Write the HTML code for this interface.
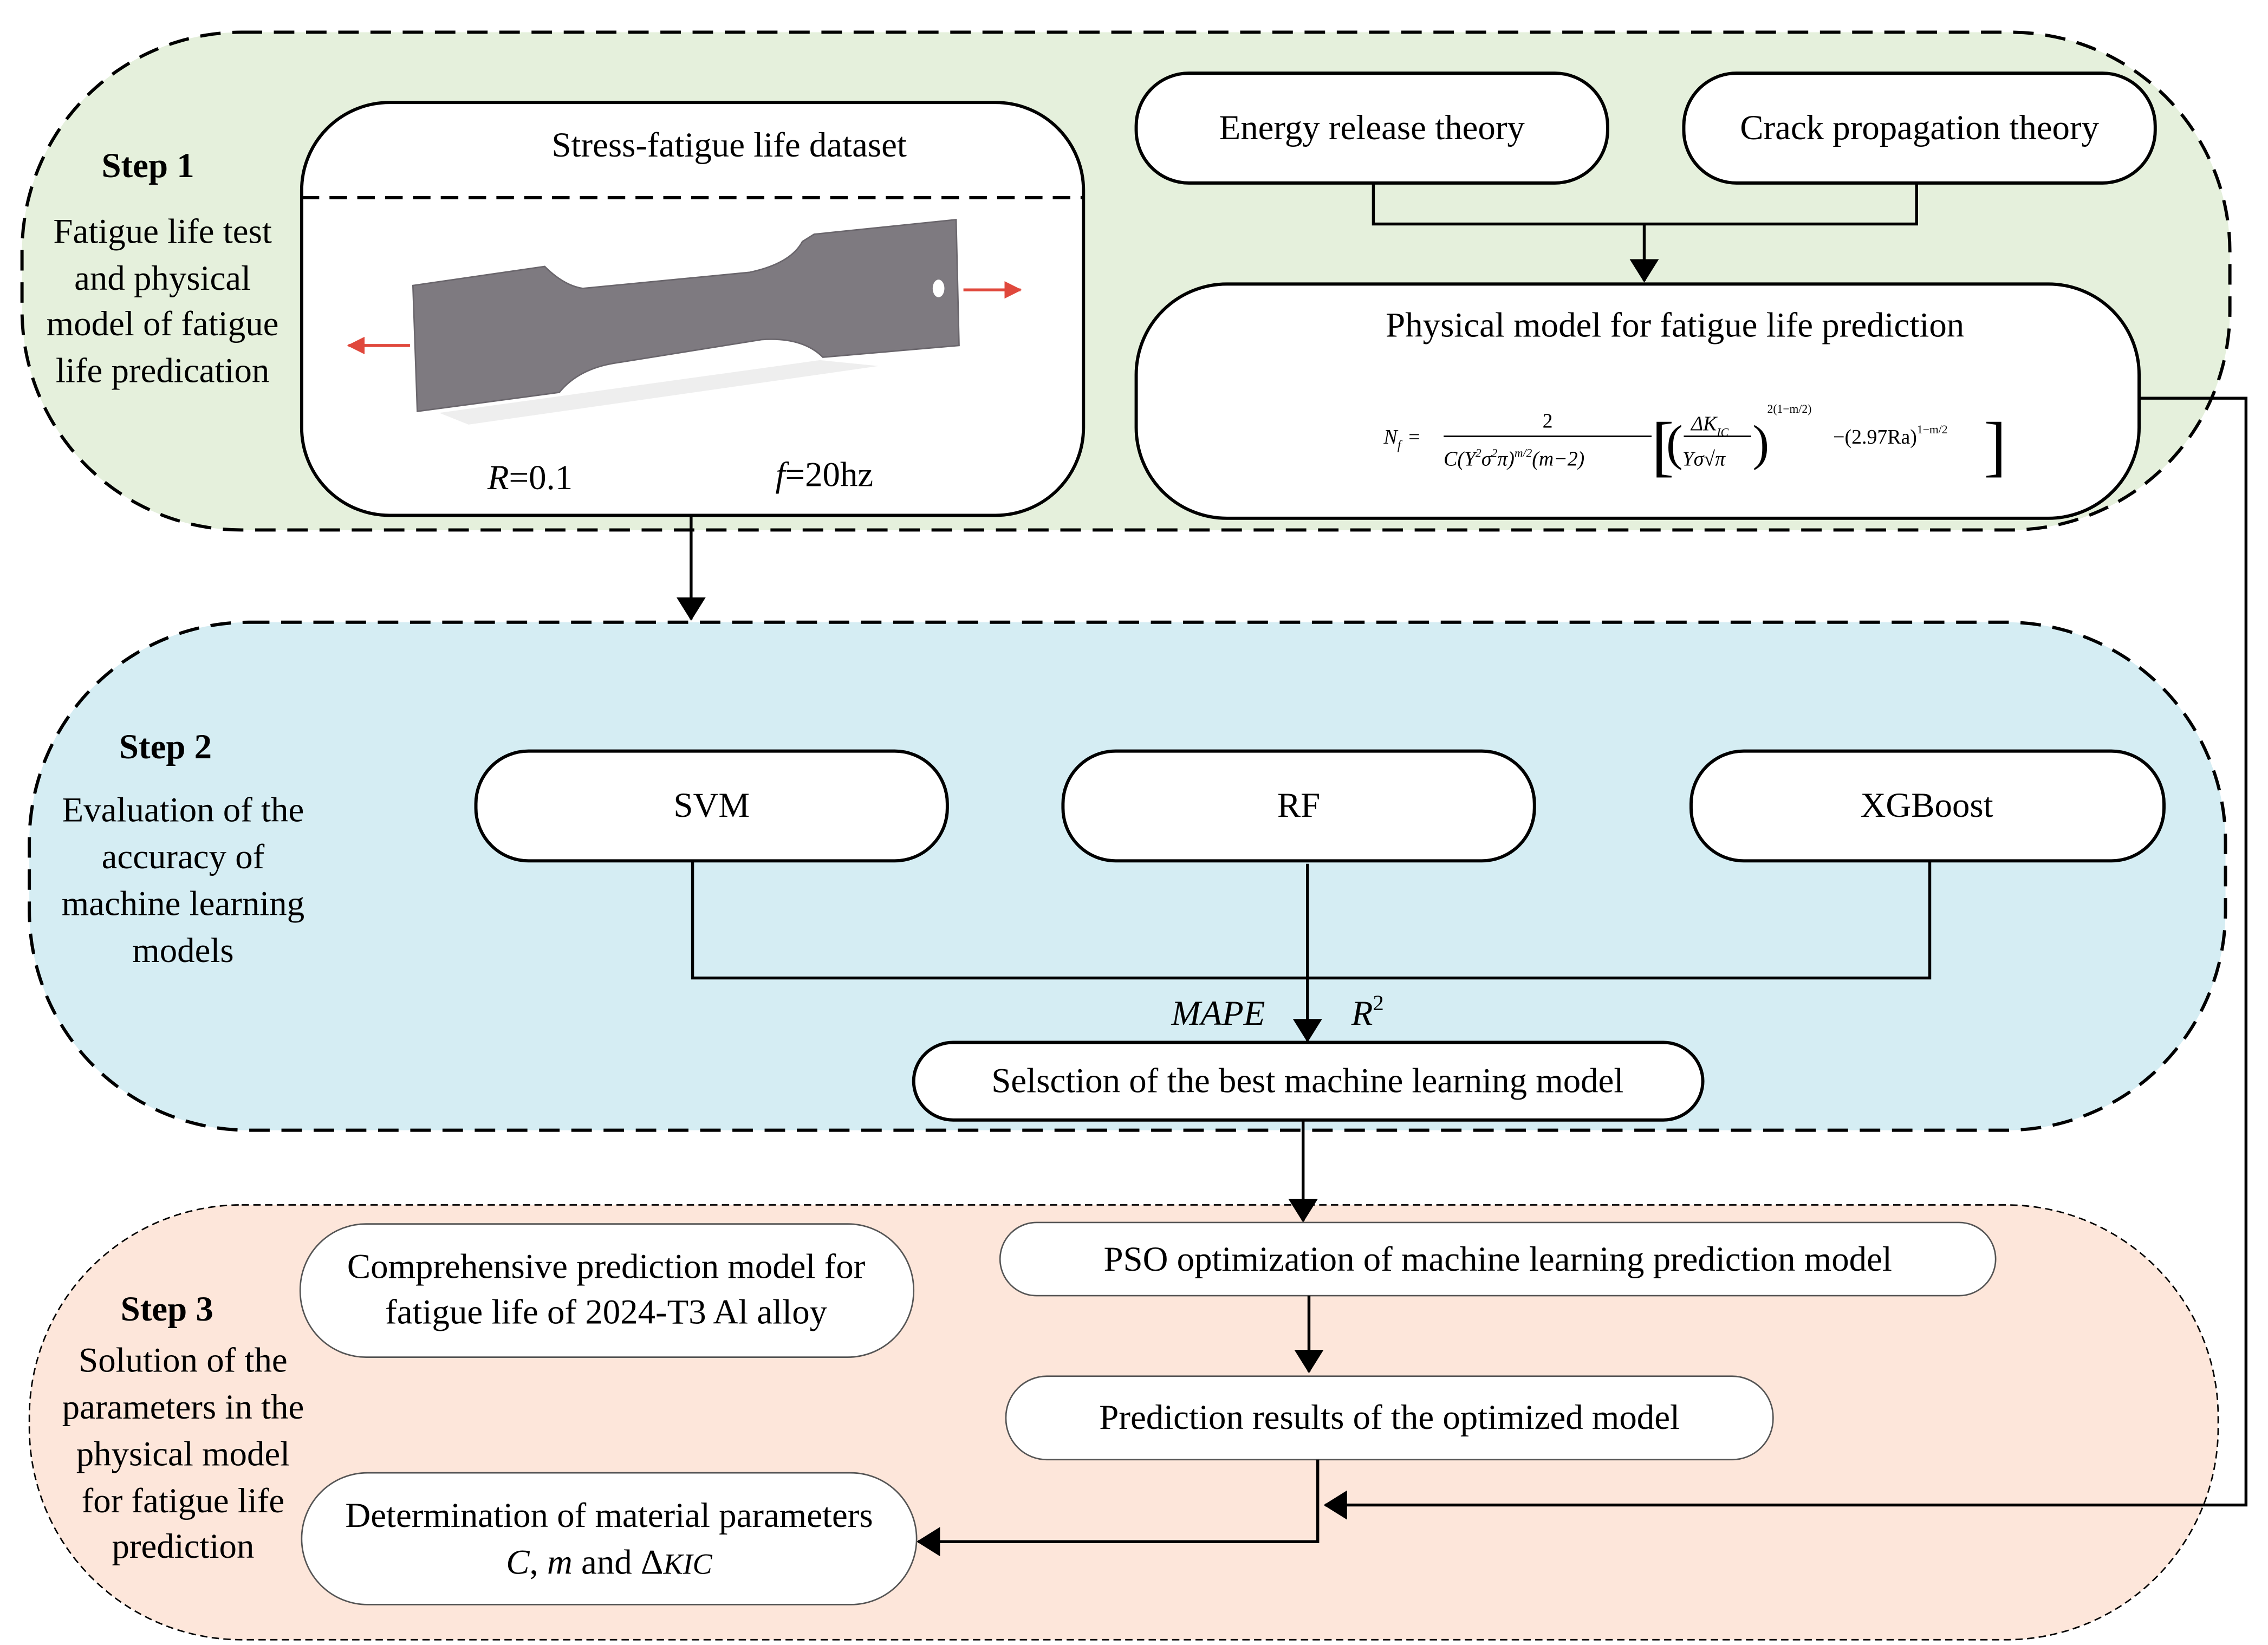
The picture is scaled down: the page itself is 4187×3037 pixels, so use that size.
<!DOCTYPE html>
<html><head><meta charset="utf-8"><style>
html,body{margin:0;padding:0;background:#fff;}
svg{display:block;}
text{font-family:"Liberation Serif",serif;fill:#000;}
</style></head><body>
<svg width="4187" height="3037" viewBox="0 0 1549 1123.6" xmlns="http://www.w3.org/2000/svg">
<defs>
<marker id="ah" markerWidth="10" markerHeight="10" refX="9" refY="5" orient="auto" markerUnits="userSpaceOnUse" viewBox="0 0 10 10">
<path d="M0,0 L10,5 L0,10 z" fill="#000"/></marker>
<marker id="ah2" markerWidth="16" markerHeight="20" refX="15" refY="10" orient="auto" markerUnits="userSpaceOnUse" viewBox="0 0 16 20">
<path d="M0,0 L16,10 L0,20 z" fill="#000"/></marker>
<marker id="ra" markerWidth="12" markerHeight="12" refX="11" refY="6" orient="auto" markerUnits="userSpaceOnUse" viewBox="0 0 12 12">
<path d="M0,0 L12,6 L0,12 z" fill="#e0483c"/></marker>
</defs>

<!-- Step regions -->
<rect x="15" y="22" width="1508" height="340" rx="150" ry="150" fill="#e5f0dc" stroke="#000" stroke-width="2.2" stroke-dasharray="14,8"/>
<rect x="20" y="425" width="1500" height="347" rx="150" ry="150" fill="#d5edf3" stroke="#000" stroke-width="2.2" stroke-dasharray="14,8"/>
<rect x="20" y="823" width="1495" height="297" rx="145" ry="145" fill="#fde6da" stroke="#000" stroke-width="1" stroke-dasharray="5,3"/>

<!-- Step 1 -->
<text x="101" y="121" font-size="24" font-weight="bold" text-anchor="middle">Step 1</text>
<g font-size="24" text-anchor="middle">
<text x="111" y="166">Fatigue life test</text>
<text x="111" y="198">and physical</text>
<text x="111" y="229">model of fatigue</text>
<text x="111" y="261">life predication</text>
</g>

<rect x="206" y="70" width="534" height="282" rx="60" fill="#fff" stroke="#000" stroke-width="2.2"/>
<line x1="206" y1="135" x2="740" y2="135" stroke="#000" stroke-width="2.2" stroke-dasharray="12,7"/>
<text x="498" y="107" font-size="24" text-anchor="middle">Stress-fatigue life dataset</text>
<!-- specimen -->
<path d="M282,195 L372,182 Q385,195 398,197 L512,186 Q540,180 548,165 L556,160 L653,150 L655,236 L562,244 Q548,230 520,232 L420,248 Q395,252 382,268 L285,281 Z" fill="#7e7a80" stroke="#6a666c" stroke-width="1"/>
<path d="M300,282 L560,246 L600,250 L320,290 Z" fill="#ddd" opacity="0.5"/>
<ellipse cx="641" cy="197" rx="4" ry="6" fill="#fff"/>
<line x1="658" y1="198" x2="697" y2="198" stroke="#e0483c" stroke-width="2" marker-end="url(#ra)"/>
<line x1="280" y1="236" x2="238" y2="236" stroke="#e0483c" stroke-width="2" marker-end="url(#ra)"/>
<text x="362" y="334" font-size="24" text-anchor="middle"><tspan font-style="italic">R</tspan>=0.1</text>
<text x="563" y="332" font-size="24" text-anchor="middle"><tspan font-style="italic">f</tspan>=20hz</text>

<rect x="776" y="50" width="322" height="75" rx="36" fill="#fff" stroke="#000" stroke-width="2.2"/>
<text x="937" y="95" font-size="24" text-anchor="middle">Energy release theory</text>
<rect x="1150" y="50" width="322" height="75" rx="36" fill="#fff" stroke="#000" stroke-width="2.2"/>
<text x="1311" y="95" font-size="24" text-anchor="middle">Crack propagation theory</text>
<polyline points="938,125 938,153 1309,153 1309,125" fill="none" stroke="#000" stroke-width="2"/>
<line x1="1123" y1="153" x2="1123" y2="192" stroke="#000" stroke-width="2" marker-end="url(#ah2)"/>

<rect x="776" y="194" width="685" height="160" rx="62" fill="#fff" stroke="#000" stroke-width="2.2"/>
<text x="1144" y="230" font-size="24" text-anchor="middle">Physical model for fatigue life prediction</text>
<!-- formula -->
<g font-size="14">
<text x="945" y="303" font-style="italic">N<tspan font-size="9" dy="4">f</tspan></text>
<text x="962" y="303">=</text>
<text x="1057" y="292" text-anchor="middle">2</text>
<line x1="986" y1="298" x2="1128" y2="298" stroke="#000" stroke-width="1"/>
<text x="986" y="318" font-style="italic">C(Y<tspan font-size="8" dy="-6">2</tspan><tspan dy="6">σ</tspan><tspan font-size="8" dy="-6">2</tspan><tspan dy="6">π)</tspan><tspan font-size="8" dy="-6">m/2</tspan><tspan dy="6">(m−2)</tspan></text>
<text x="1128" y="320" font-size="46" font-weight="100">[</text>
<text x="1138" y="314" font-size="34">(</text>
<text x="1155" y="294" font-style="italic">ΔK<tspan font-size="8" dy="4">IC</tspan></text>
<line x1="1150" y1="298" x2="1196" y2="298" stroke="#000" stroke-width="1"/>
<text x="1149" y="318" font-style="italic">Yσ√π</text>
<text x="1197" y="314" font-size="34">)</text>
<text x="1207" y="282" font-size="8">2(1−m/2)</text>
<text x="1252" y="303">−(2.97Ra)<tspan font-size="8" dy="-7">1−m/2</tspan></text>
<text x="1355" y="320" font-size="46" font-weight="100">]</text>
</g>
<polyline points="1461,272 1534,272 1534,1028 905,1028" fill="none" stroke="#000" stroke-width="2" marker-end="url(#ah2)"/>

<line x1="472" y1="352" x2="472" y2="423" stroke="#000" stroke-width="2" marker-end="url(#ah2)"/>

<!-- Step 2 -->
<text x="113" y="518" font-size="24" font-weight="bold" text-anchor="middle">Step 2</text>
<g font-size="24" text-anchor="middle">
<text x="125" y="561">Evaluation of the</text>
<text x="125" y="593">accuracy of</text>
<text x="125" y="625">machine learning</text>
<text x="125" y="657">models</text>
</g>
<rect x="325" y="513" width="322" height="75" rx="36" fill="#fff" stroke="#000" stroke-width="2.2"/>
<text x="486" y="558" font-size="24" text-anchor="middle">SVM</text>
<rect x="726" y="513" width="322" height="75" rx="36" fill="#fff" stroke="#000" stroke-width="2.2"/>
<text x="887" y="558" font-size="24" text-anchor="middle">RF</text>
<rect x="1155" y="513" width="323" height="75" rx="36" fill="#fff" stroke="#000" stroke-width="2.2"/>
<text x="1316" y="558" font-size="24" text-anchor="middle">XGBoost</text>
<polyline points="473,588 473,668 1318,668 1318,588" fill="none" stroke="#000" stroke-width="2"/>
<line x1="893" y1="590" x2="893" y2="711" stroke="#000" stroke-width="2" marker-end="url(#ah2)"/>
<text x="832" y="700" font-size="24" font-style="italic" text-anchor="middle">MAPE</text>
<text x="923" y="700" font-size="24" font-style="italic">R<tspan font-size="15" font-style="normal" dy="-10">2</tspan></text>
<rect x="624" y="712" width="539" height="53" rx="27" fill="#fff" stroke="#000" stroke-width="2.2"/>
<text x="893" y="746" font-size="24" text-anchor="middle">Selsction of the best machine learning model</text>
<line x1="890" y1="765" x2="890" y2="834" stroke="#000" stroke-width="2" marker-end="url(#ah2)"/>

<!-- Step 3 -->
<text x="114" y="902" font-size="24" font-weight="bold" text-anchor="middle">Step 3</text>
<g font-size="24" text-anchor="middle">
<text x="125" y="937">Solution of the</text>
<text x="125" y="969">parameters in the</text>
<text x="125" y="1001">physical model</text>
<text x="125" y="1033">for fatigue life</text>
<text x="125" y="1064">prediction</text>
</g>
<rect x="205" y="836" width="419" height="91" rx="45" fill="#fff" stroke="#555" stroke-width="1"/>
<text x="414" y="873" font-size="24" text-anchor="middle">Comprehensive prediction model for</text>
<text x="414" y="904" font-size="24" text-anchor="middle">fatigue life of 2024-T3 Al alloy</text>
<rect x="683" y="835" width="680" height="50" rx="25" fill="#fff" stroke="#555" stroke-width="1"/>
<text x="1023" y="868" font-size="24" text-anchor="middle">PSO optimization of machine learning prediction model</text>
<line x1="894" y1="885" x2="894" y2="937" stroke="#000" stroke-width="2" marker-end="url(#ah2)"/>
<rect x="687" y="940" width="524" height="57" rx="28" fill="#fff" stroke="#555" stroke-width="1"/>
<text x="949" y="976" font-size="24" text-anchor="middle">Prediction results of the optimized model</text>
<polyline points="900,997 900,1053 627,1053" fill="none" stroke="#000" stroke-width="2" marker-end="url(#ah2)"/>
<rect x="206" y="1006" width="420" height="90" rx="45" fill="#fff" stroke="#555" stroke-width="1"/>
<text x="416" y="1043" font-size="24" text-anchor="middle">Determination of material parameters</text>
<text x="416" y="1075" font-size="24" text-anchor="middle"><tspan font-style="italic">C</tspan>, <tspan font-style="italic">m</tspan> and Δ<tspan font-style="italic" font-size="20">KIC</tspan></text>
</svg>
</body></html>
